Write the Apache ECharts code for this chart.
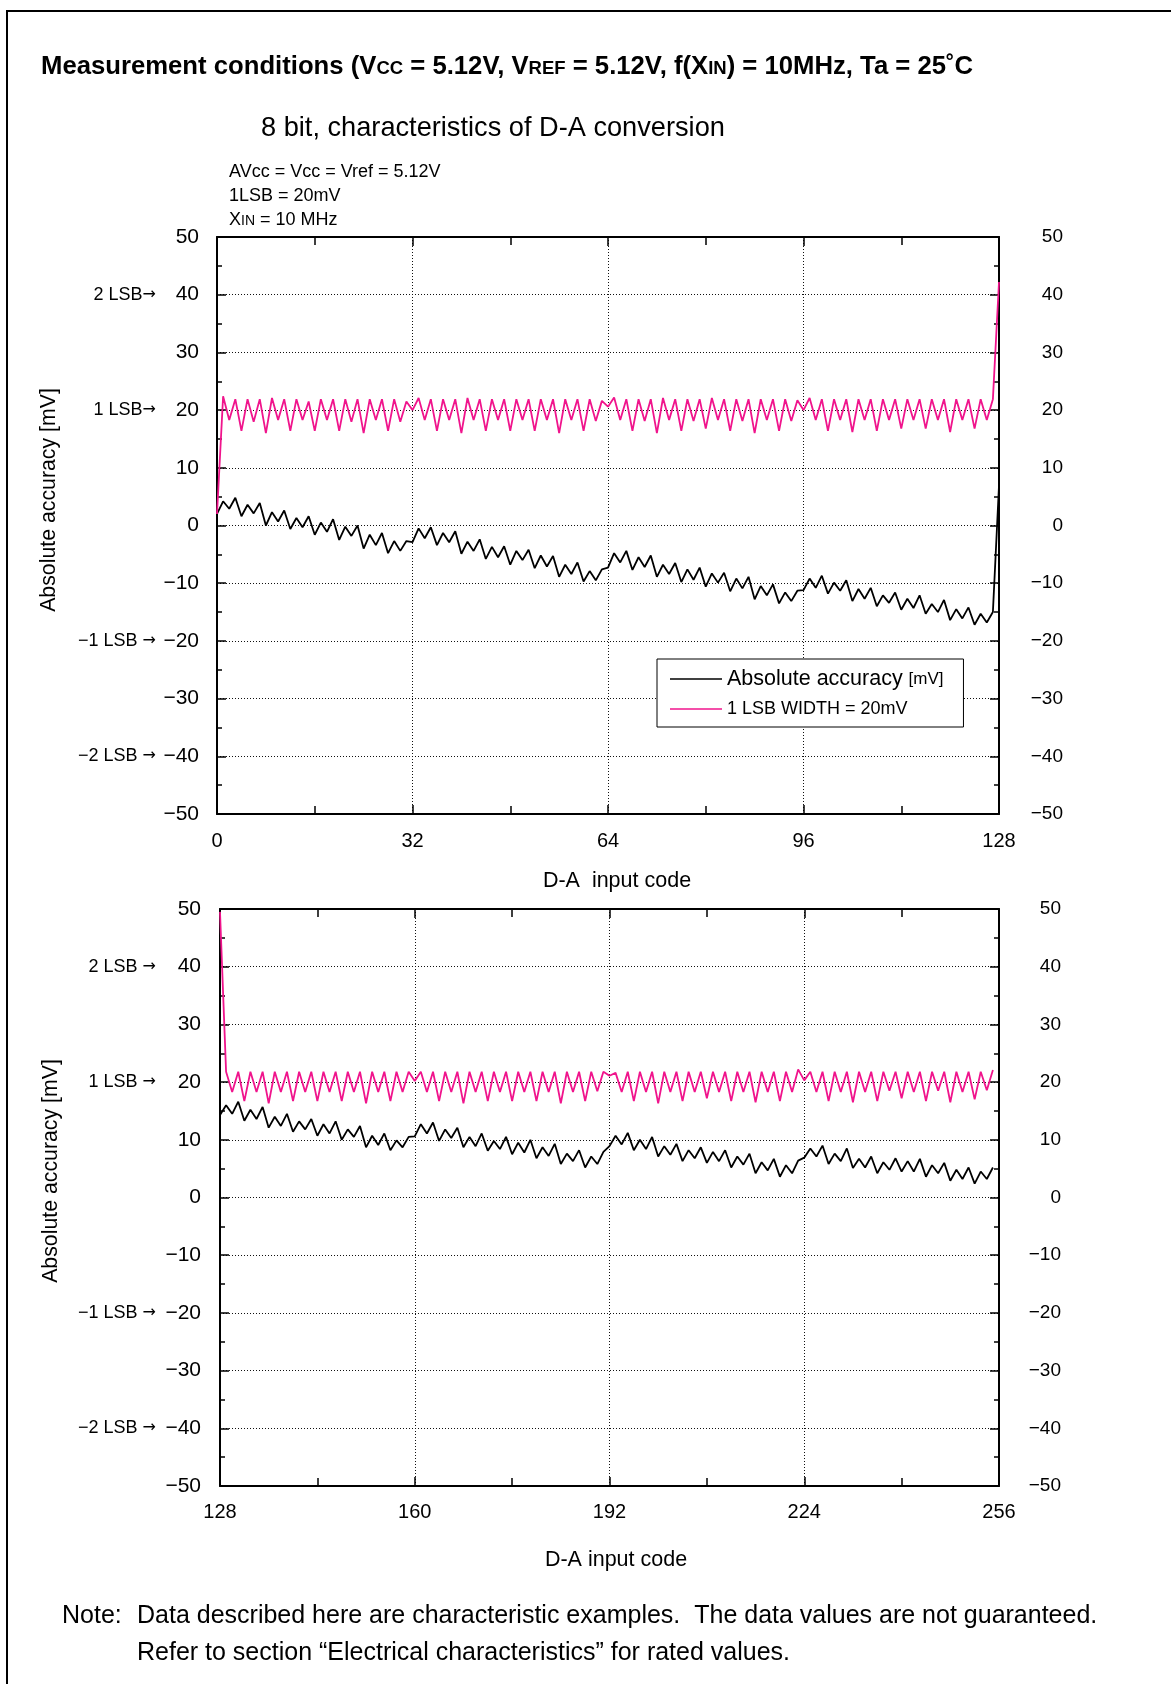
<!DOCTYPE html>
<html>
<head>
<meta charset="utf-8">
<title>8 bit, characteristics of D-A conversion</title>
<script src="https://cdn.jsdelivr.net/npm/echarts@6/dist/echarts.min.js"></script>
<style>
  html, body { margin: 0; padding: 0; background: #fff; }
  #chart { width: 1171px; height: 1684px; }
</style>
</head>
<body>
<div id="chart"></div>
<script>
// 横轴起始码
const topCodeStart = 0;
const bottomCodeStart = 128;

// 上图 绝对精度 [mV]，码 0 ~ 128
const topAccuracy = [
  2.0, 4.2, 2.9, 4.8, 1.6, 3.6, 2.1, 3.9,
  0.0, 2.3, 0.7, 2.6, -0.6, 1.3, -0.3, 1.6,
  -1.6, 0.5, -1.1, 1.1, -2.5, -0.2, -1.8, 0.0,
  -4.0, -1.6, -3.4, -1.3, -4.8, -2.7, -4.4, -2.7,
  -2.9, -0.5, -2.2, -0.3, -3.4, -1.3, -2.9, -1.0,
  -4.9, -2.8, -4.4, -2.4, -5.8, -3.7, -5.5, -3.6,
  -6.8, -4.4, -6.0, -4.2, -7.4, -5.2, -7.1, -5.3,
  -8.9, -6.8, -8.4, -6.4, -9.7, -7.9, -9.5, -7.6,
  -7.3, -4.8, -6.4, -4.4, -7.7, -5.5, -7.2, -5.2,
  -8.9, -6.8, -8.4, -6.5, -9.8, -7.6, -9.4, -7.3,
  -10.6, -8.3, -9.9, -8.2, -11.4, -9.2, -10.9, -8.9,
  -12.8, -10.5, -12.1, -10.2, -13.5, -11.6, -13.1, -11.3,
  -11.2, -9.2, -10.8, -8.7, -11.8, -9.9, -11.3, -9.5,
  -13.1, -11.0, -12.7, -10.8, -14.0, -12.1, -13.4, -11.6,
  -14.6, -12.7, -14.3, -12.1, -15.3, -13.6, -15.0, -12.9,
  -16.4, -14.5, -16.1, -14.2, -17.2, -15.3, -16.8, -15.0,
  6.9
];
// 上图 1LSB 宽度 [mV]
const topLsbWidth = [
  2.0, 22.4, 18.3, 21.9, 16.4, 21.9, 18.0, 21.9,
  16.0, 22.1, 18.3, 21.9, 16.4, 21.9, 18.3, 21.5,
  16.4, 21.9, 18.3, 21.9, 16.4, 21.9, 18.0, 21.9,
  16.0, 21.9, 18.3, 21.9, 16.4, 21.9, 18.0, 21.5,
  20.0, 22.1, 18.3, 21.9, 16.4, 21.9, 18.3, 21.9,
  16.0, 22.1, 18.3, 21.9, 16.4, 21.9, 18.3, 21.9,
  16.4, 21.9, 18.3, 21.9, 16.4, 21.9, 18.3, 21.9,
  16.0, 21.9, 18.3, 21.9, 16.4, 21.9, 18.1, 21.6,
  20.6, 22.2, 18.3, 21.9, 16.4, 21.9, 18.1, 21.9,
  16.0, 22.1, 18.3, 21.9, 16.4, 21.9, 18.1, 21.9,
  16.8, 22.1, 18.3, 21.9, 16.4, 21.9, 18.1, 21.9,
  16.0, 21.9, 18.3, 21.9, 16.4, 21.9, 18.1, 21.7,
  20.0, 22.1, 18.3, 21.9, 16.4, 21.9, 18.3, 21.9,
  16.2, 21.9, 18.3, 21.9, 16.4, 21.9, 18.3, 21.9,
  16.8, 21.9, 18.3, 21.9, 16.8, 21.9, 18.3, 21.9,
  16.2, 21.9, 18.3, 21.9, 16.8, 21.9, 18.3, 21.9,
  42.2
];
// 下图 绝对精度 [mV]，码 128 ~ 255
const bottomAccuracy = [
  14.3, 16.0, 14.5, 16.6, 13.3, 15.2, 13.6, 15.7,
  12.1, 14.0, 12.4, 14.5, 11.4, 13.2, 11.8, 13.6,
  10.7, 12.7, 11.1, 13.2, 10.0, 11.8, 10.5, 12.4,
  8.7, 10.7, 9.1, 11.1, 8.2, 9.9, 8.7, 10.5,
  10.6, 12.7, 11.1, 13.0, 9.8, 11.8, 10.3, 12.1,
  8.7, 10.5, 8.9, 11.1, 8.1, 9.8, 8.4, 10.5,
  7.5, 9.5, 7.8, 10.0, 6.8, 8.7, 7.2, 9.3,
  5.8, 7.6, 6.3, 8.2, 5.2, 7.1, 5.8, 7.9,
  8.9, 10.7, 9.2, 11.2, 8.2, 10.0, 8.4, 10.5,
  7.1, 8.9, 7.4, 9.3, 6.3, 8.2, 6.8, 8.7,
  6.0, 7.9, 6.3, 8.2, 5.2, 7.1, 5.7, 7.6,
  4.2, 6.1, 4.7, 6.7, 3.6, 5.6, 4.2, 6.4,
  6.9, 8.5, 7.1, 9.0, 5.8, 7.6, 6.3, 8.5,
  5.1, 6.7, 5.2, 7.1, 4.2, 6.1, 4.8, 6.8,
  4.5, 6.3, 4.5, 6.7, 3.6, 5.6, 4.2, 6.0,
  2.9, 4.8, 3.2, 5.2, 2.4, 4.5, 3.2, 5.2
];
// 下图 1LSB 宽度 [mV]
const bottomLsbWidth = [
  49.5, 21.8, 18.3, 21.8, 16.7, 21.8, 18.3, 21.8,
  16.3, 21.8, 18.3, 21.8, 16.7, 21.8, 18.3, 21.8,
  16.7, 21.8, 18.3, 21.8, 16.7, 21.8, 18.3, 21.8,
  16.3, 21.8, 18.3, 21.8, 16.7, 21.8, 18.3, 21.8,
  20.2, 21.8, 18.3, 21.8, 16.7, 21.8, 18.3, 21.8,
  16.3, 21.8, 18.3, 21.8, 16.7, 21.8, 18.3, 21.8,
  16.7, 21.8, 18.3, 21.8, 16.7, 21.8, 18.3, 21.8,
  16.3, 21.8, 18.3, 21.8, 16.7, 21.8, 18.4, 21.8,
  21.1, 21.6, 18.3, 21.8, 16.7, 21.8, 18.3, 21.8,
  16.3, 21.8, 18.3, 21.8, 16.7, 21.8, 18.3, 21.8,
  17.2, 21.8, 18.3, 21.8, 16.7, 21.8, 18.3, 21.8,
  16.5, 21.8, 18.3, 21.8, 16.7, 21.8, 18.3, 22.2,
  20.3, 21.8, 18.3, 21.8, 16.7, 21.8, 18.3, 21.8,
  16.5, 21.8, 18.3, 21.8, 16.7, 21.8, 18.5, 21.8,
  17.2, 21.8, 18.3, 21.8, 16.7, 21.8, 18.5, 21.8,
  16.5, 21.8, 18.3, 21.8, 17.0, 21.8, 18.6, 22.1
];

// 左侧 LSB 刻度标注
const lsbValues = [40, 20, -20, -40];
const topLsbLabels = ['2 LSB\u2192', '1 LSB\u2192', '\u22121 LSB \u2192', '\u22122 LSB \u2192'];
const bottomLsbLabels = ['2 LSB \u2192', '1 LSB \u2192', '\u22121 LSB \u2192', '\u22122 LSB \u2192'];

// 图例名称
const accName = 'Absolute accuracy';
const lsbName = '1 LSB WIDTH = 20mV';

const FONT = '"Liberation Sans", Arial, Helvetica, sans-serif';
const PINK = '#f0148c';
const chart = echarts.init(document.getElementById('chart'));

// 负号用长横
function minusFmt(v) {
  return v < 0 ? '\u2212' + Math.abs(v) : '' + v;
}
// LSB 标注，箭头单独用 DejaVu 字体
function lsbFmt(labels) {
  return function (v) {
    const i = lsbValues.indexOf(v);
    return i >= 0 ? labels[i].replace('\u2192', '{ar|\u2192}') : '';
  };
}
function toPoints(start, arr) {
  return arr.map(function (v, i) { return [start + i, v]; });
}

// 虚线网格
const gridLine = { show: true, lineStyle: { color: '#111', width: 1, type: [1, 2] } };

// 横轴：下方带标签，上方只有刻度
function xAxes(gridIndex, min, margin) {
  return [{
    type: 'value', gridIndex: gridIndex, position: 'bottom',
    min: min, max: min + 128, interval: 32,
    axisLine: { show: true, onZero: false, lineStyle: { color: '#000', width: 2 } },
    axisTick: { show: true, inside: true, length: 9, lineStyle: { color: '#000', width: 1.5 } },
    minorTick: { show: true, splitNumber: 2, length: 8, lineStyle: { color: '#000', width: 1.5 } },
    axisLabel: { fontSize: 20, color: '#000', fontFamily: FONT, margin: margin },
    splitLine: gridLine
  }, {
    type: 'value', gridIndex: gridIndex, position: 'top',
    min: min, max: min + 128, interval: 32,
    axisLine: { show: true, onZero: false, lineStyle: { color: '#000', width: 2 } },
    axisTick: { show: true, inside: true, length: 9, lineStyle: { color: '#000', width: 1.5 } },
    minorTick: { show: true, splitNumber: 2, length: 8, lineStyle: { color: '#000', width: 1.5 } },
    axisLabel: { show: false },
    splitLine: { show: false }
  }];
}

// 纵轴：左数值、右数值、左侧 LSB 标注
function yAxes(gridIndex, leftMargin, rightMargin, lsbMargin, lsbLabels) {
  const base = { type: 'value', gridIndex: gridIndex, min: -50, max: 50, interval: 10 };
  return [Object.assign({}, base, {
    position: 'left',
    axisLine: { show: true, onZero: false, lineStyle: { color: '#000', width: 2 } },
    axisTick: { show: true, inside: true, length: 9, lineStyle: { color: '#000', width: 1.5 } },
    minorTick: { show: true, splitNumber: 2, length: 5, lineStyle: { color: '#000', width: 1.5 } },
    axisLabel: { fontSize: 21, color: '#000', fontFamily: FONT, margin: leftMargin, formatter: minusFmt },
    splitLine: gridLine
  }), Object.assign({}, base, {
    position: 'right',
    axisLine: { show: true, onZero: false, lineStyle: { color: '#000', width: 2 } },
    axisTick: { show: true, inside: true, length: 9, lineStyle: { color: '#000', width: 1.5 } },
    minorTick: { show: true, splitNumber: 2, length: 5, lineStyle: { color: '#000', width: 1.5 } },
    axisLabel: { fontSize: 19, color: '#000', fontFamily: FONT, margin: rightMargin, align: 'right', formatter: minusFmt },
    splitLine: { show: false }
  }), Object.assign({}, base, {
    position: 'left',
    axisLine: { show: false },
    axisTick: { show: false },
    axisLabel: {
      fontSize: 18, color: '#000', fontFamily: FONT, margin: lsbMargin, formatter: lsbFmt(lsbLabels),
      rich: { ar: { fontSize: 16, fontFamily: '"DejaVu Sans", sans-serif', color: '#000' } }
    },
    splitLine: { show: false }
  })];
}

function txt(x, y, text, size, extra) {
  return Object.assign({
    type: 'text', x: x, y: y,
    style: Object.assign({
      text: text, fill: '#000', fontSize: size, fontFamily: FONT,
      align: 'left', verticalAlign: 'middle'
    }, extra && extra.style)
  }, extra && extra.el);
}

var option = {
  animation: false,
  backgroundColor: '#fff',
  textStyle: { fontFamily: FONT, color: '#000' },
  grid: [
    { left: 217, top: 237, width: 782, height: 577, outerBoundsMode: 'none' },
    { left: 220, top: 909, width: 779, height: 577, outerBoundsMode: 'none' }
  ],
  xAxis: xAxes(0, topCodeStart, 17).concat(xAxes(1, bottomCodeStart, 16)),
  yAxis: yAxes(0, 18, 64, 61, topLsbLabels).concat(yAxes(1, 19, 62, 64, bottomLsbLabels)),
  legend: {
    left: 657, top: 659,
    orient: 'vertical',
    selectedMode: false,
    icon: 'rect',
    itemWidth: 52, itemHeight: 1.5,
    itemGap: 10,
    padding: [9, 20, 9, 13],
    borderColor: '#000', borderWidth: 1,
    backgroundColor: '#fff',
    data: [accName, lsbName],
    formatter: function (name) {
      return name === accName ? '{a|' + name + '} {b|[mV]}' : '{c|' + name + '}';
    },
    textStyle: {
      color: '#000', fontFamily: FONT, fontSize: 21,
      rich: {
        a: { fontSize: 21.5, fontFamily: FONT, color: '#000' },
        b: { fontSize: 17, fontFamily: FONT, color: '#000' },
        c: { fontSize: 18, fontFamily: FONT, color: '#000' }
      }
    }
  },
  graphic: [
    // 外框
    { type: 'rect', shape: { x: 7, y: 11, width: 1250, height: 1750 }, style: { fill: 'none', stroke: '#000', lineWidth: 2 } },
    // 标题（小号大写字母对齐基线）
    txt(41, 67, 'Measurement conditions (V{s|CC} = 5.12V, V{s|REF} = 5.12V, f(X{s|IN}) = 10MHz, Ta = 25\u02daC', 25.7, {
      style: {
        fontWeight: 'bold',
        rich: { s: { fontSize: 18.5, fontWeight: 'bold', fontFamily: FONT, fill: '#000', verticalAlign: 'bottom', padding: [0, 0, 2, 0] } }
      }
    }),
    txt(261, 129, '8 bit, characteristics of D-A conversion', 27.2),
    txt(229, 172, 'AVcc = Vcc = Vref = 5.12V', 18),
    txt(229, 196, '1LSB = 20mV', 18),
    txt(229, 220, 'X{s|IN} = 10 MHz', 18, {
      style: { rich: { s: { fontSize: 14, fontFamily: FONT, fill: '#000', verticalAlign: 'bottom', padding: [0, 0, 1, 0] } } }
    }),
    // 轴名称
    txt(49, 500, 'Absolute accuracy [mV]', 21.3, { style: { align: 'center' }, el: { rotation: Math.PI / 2 } }),
    txt(51, 1171, 'Absolute accuracy [mV]', 21.3, { style: { align: 'center' }, el: { rotation: Math.PI / 2 } }),
    txt(617, 881, 'D-A  input code', 21.5, { style: { align: 'center' } }),
    txt(616, 1560, 'D-A input code', 21.5, { style: { align: 'center' } }),
    // 注释
    txt(62, 1616, 'Note:', 25),
    txt(137, 1616, 'Data described here are characteristic examples.  The data values are not guaranteed.', 25),
    txt(137, 1653, 'Refer to section \u201cElectrical characteristics\u201d for rated values.', 25)
  ],
  series: [{
    name: accName, type: 'line', xAxisIndex: 0, yAxisIndex: 0,
    showSymbol: false, color: '#000',
    lineStyle: { color: '#000', width: 1.8 },
    data: toPoints(topCodeStart, topAccuracy)
  }, {
    name: lsbName, type: 'line', xAxisIndex: 0, yAxisIndex: 0,
    showSymbol: false, color: PINK,
    lineStyle: { color: PINK, width: 1.8 },
    data: toPoints(topCodeStart, topLsbWidth)
  }, {
    name: accName, type: 'line', xAxisIndex: 2, yAxisIndex: 3,
    showSymbol: false, color: '#000',
    lineStyle: { color: '#000', width: 1.8 },
    data: toPoints(bottomCodeStart, bottomAccuracy)
  }, {
    name: lsbName, type: 'line', xAxisIndex: 2, yAxisIndex: 3,
    showSymbol: false, color: PINK,
    lineStyle: { color: PINK, width: 1.8 },
    data: toPoints(bottomCodeStart, bottomLsbWidth)
  }]
};

chart.setOption(option);
</script>
</body>
</html>
